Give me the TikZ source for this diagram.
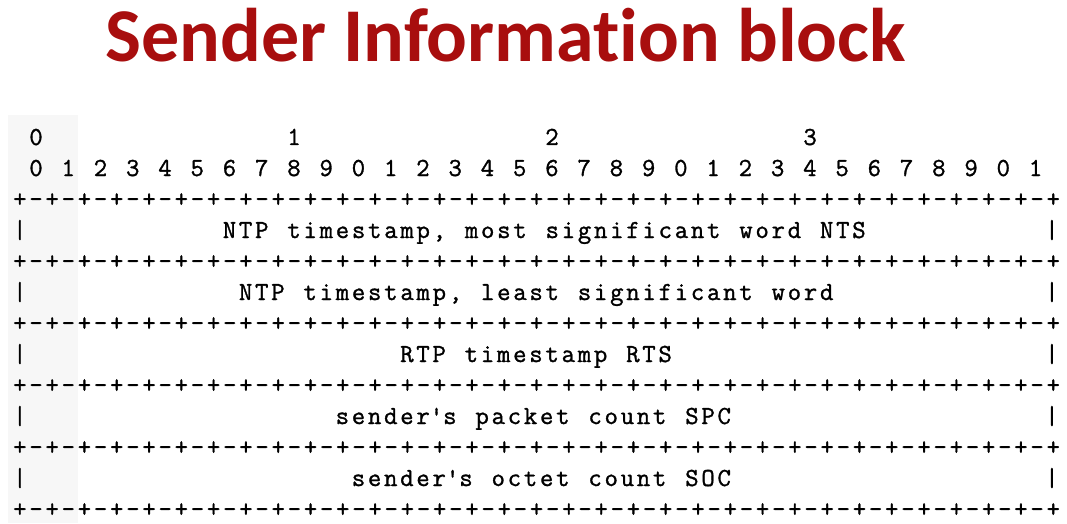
\documentclass[tikz,border=0pt]{standalone}
\usepackage{fontspec}
\usepackage{xcolor}
\usetikzlibrary{positioning}
\newfontfamily\titlefont{Carlito}[Ligatures=NoCommon]
\newfontfamily\bitfont{Latin Modern Mono}[LetterSpace=10.6, WordSpace=1.168, FakeBold=1.2]
\definecolor{titlered}{RGB}{168,14,14}
\definecolor{stripgray}{RGB}{247,247,247}

\newcommand{\bitrule}{+-+-+-+-+-+-+-+-+-+-+-+-+-+-+-+-+-+-+-+-+-+-+-+-+-+-+-+-+-+-+-+-+}

\tikzset{
  bitcell/.style={anchor=base west, inner sep=0pt,
    font=\bitfont\fontsize{26}{31}\selectfont\frenchspacing},
}

\begin{document}
\begin{tikzpicture}[x=1pt,y=1pt]
\useasboundingbox (0,0) rectangle (1067,523);
\fill[stripgray] (8,0) rectangle (78,408);

\node[anchor=base west, inner sep=0pt, text=titlered,
  font=\titlefont\bfseries\fontsize{76}{90}\selectfont] (title) at (105,461) {Sender Information block};

\begin{scope}[shift={(13pt,378pt)}, x=16.125pt, y=-31pt]
  % byte and bit numbers
  \foreach \c/\d in {1/0,17/1,33/2,49/3}
    \node[bitcell] (byte\d) at (\c,0) {\d};
  \node[bitcell] (bits) at (1,1) {0 1 2 3 4 5 6 7 8 9 0 1 2 3 4 5 6 7 8 9 0 1 2 3 4 5 6 7 8 9 0 1};

  % separator lines
  \foreach \r in {2,4,...,12}
    \node[bitcell] (rule\r) at (0,\r) {\bitrule};

  % fields, one word each
  \foreach \r/\c/\txt in {3/13/{NTP timestamp, most significant word NTS},
                          5/14/{NTP timestamp, least significant word},
                          7/24/{RTP timestamp RTS},
                          9/20/{sender\textquotesingle s packet count SPC},
                          11/21/{sender\textquotesingle s octet count SOC}} {
    \node[bitcell] (lbar\r) at (0,\r) {|};
    \node[bitcell] (field\r) at (\c,\r) {\txt};
    \node[bitcell] (rbar\r) at (64,\r) {|};
  }
\end{scope}
\end{tikzpicture}
\end{document}
